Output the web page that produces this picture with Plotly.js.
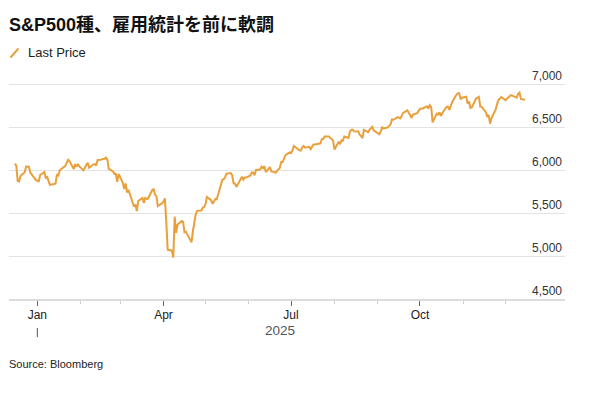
<!DOCTYPE html>
<html>
<head>
<meta charset="utf-8">
<script src="https://cdn.plot.ly/plotly-3.0.1.min.js"></script>
<style>html,body{margin:0;padding:0;background:#fff;}#chart{width:599px;height:393px;}</style>
</head>
<body>
<div id="chart"></div>
<script>
// ---- Data (S&P 500 daily close) ----
const dates = [
"2024-12-16","2024-12-17","2024-12-18","2024-12-19","2024-12-20","2024-12-23","2024-12-24","2024-12-26","2024-12-27","2024-12-30","2024-12-31",
"2025-01-02","2025-01-03","2025-01-06","2025-01-07","2025-01-08","2025-01-10","2025-01-13","2025-01-14","2025-01-15","2025-01-16","2025-01-17","2025-01-21","2025-01-22","2025-01-23","2025-01-24","2025-01-27","2025-01-28","2025-01-29","2025-01-30","2025-01-31",
"2025-02-03","2025-02-04","2025-02-05","2025-02-06","2025-02-07","2025-02-10","2025-02-11","2025-02-12","2025-02-13","2025-02-14","2025-02-18","2025-02-19","2025-02-20","2025-02-21","2025-02-24","2025-02-25","2025-02-26","2025-02-27","2025-02-28",
"2025-03-03","2025-03-04","2025-03-05","2025-03-06","2025-03-07","2025-03-10","2025-03-11","2025-03-12","2025-03-13","2025-03-14","2025-03-17","2025-03-18","2025-03-19","2025-03-20","2025-03-21","2025-03-24","2025-03-25","2025-03-26","2025-03-27","2025-03-28","2025-03-31",
"2025-04-01","2025-04-02","2025-04-03","2025-04-04","2025-04-07","2025-04-08","2025-04-09","2025-04-10","2025-04-11","2025-04-14","2025-04-15","2025-04-16","2025-04-17","2025-04-21","2025-04-22","2025-04-23","2025-04-24","2025-04-25","2025-04-28","2025-04-29","2025-04-30",
"2025-05-01","2025-05-02","2025-05-05","2025-05-06","2025-05-07","2025-05-08","2025-05-09","2025-05-12","2025-05-13","2025-05-14","2025-05-15","2025-05-16","2025-05-19","2025-05-20","2025-05-21","2025-05-22","2025-05-23","2025-05-27","2025-05-28","2025-05-29","2025-05-30",
"2025-06-02","2025-06-03","2025-06-04","2025-06-05","2025-06-06","2025-06-09","2025-06-10","2025-06-11","2025-06-12","2025-06-13","2025-06-16","2025-06-17","2025-06-18","2025-06-20","2025-06-23","2025-06-24","2025-06-25","2025-06-26","2025-06-27","2025-06-30",
"2025-07-01","2025-07-02","2025-07-03","2025-07-07","2025-07-08","2025-07-09","2025-07-10","2025-07-11","2025-07-14","2025-07-15","2025-07-16","2025-07-17","2025-07-18","2025-07-21","2025-07-22","2025-07-23","2025-07-24","2025-07-25","2025-07-28","2025-07-29","2025-07-30","2025-07-31",
"2025-08-01","2025-08-04","2025-08-05","2025-08-06","2025-08-07","2025-08-08","2025-08-11","2025-08-12","2025-08-13","2025-08-14","2025-08-15","2025-08-18","2025-08-19","2025-08-20","2025-08-21","2025-08-22","2025-08-25","2025-08-26","2025-08-27","2025-08-28","2025-08-29",
"2025-09-02","2025-09-03","2025-09-04","2025-09-05","2025-09-08","2025-09-09","2025-09-10","2025-09-11","2025-09-12","2025-09-15","2025-09-16","2025-09-17","2025-09-18","2025-09-19","2025-09-22","2025-09-23","2025-09-24","2025-09-25","2025-09-26","2025-09-29","2025-09-30",
"2025-10-01","2025-10-02","2025-10-03","2025-10-06","2025-10-07","2025-10-08","2025-10-09","2025-10-10","2025-10-13","2025-10-14","2025-10-15","2025-10-16","2025-10-17","2025-10-20","2025-10-21","2025-10-22","2025-10-23","2025-10-24","2025-10-27","2025-10-28","2025-10-29","2025-10-30","2025-10-31",
"2025-11-03","2025-11-04","2025-11-05","2025-11-06","2025-11-07","2025-11-10","2025-11-11","2025-11-12","2025-11-13","2025-11-14","2025-11-17","2025-11-18","2025-11-19","2025-11-20","2025-11-21","2025-11-24","2025-11-25","2025-11-26","2025-11-28",
"2025-12-01","2025-12-02","2025-12-03","2025-12-04","2025-12-05","2025-12-08","2025-12-09","2025-12-10","2025-12-11","2025-12-12","2025-12-15"
];
const lastPrice = [
6074,6051,5872,5867,5931,5974,6040,6038,5971,5907,5882,
5869,5942,5975,5909,5918,5827,5836,5843,5950,5937,5997,6049,6086,6119,6101,6012,6068,6039,6071,6041,
5995,6038,6061,6084,6026,6066,6069,6052,6115,6115,6130,6144,6118,6013,5983,5955,5956,5862,5955,
5850,5778,5843,5739,5770,5615,5572,5599,5522,5639,5675,5615,5675,5663,5668,5768,5777,5712,5693,5581,5612,
5633,5671,5397,5074,5062,4983,5457,5268,5363,5406,5397,5276,5283,5158,5288,5376,5485,5525,5529,5561,5569,
5604,5687,5650,5607,5631,5664,5660,5844,5887,5893,5917,5958,5964,5940,5845,5842,5803,5922,5889,5912,5912,
5936,5970,5971,5939,6000,6006,6039,6022,6045,5977,6033,5983,5981,5968,6025,6092,6092,6141,6173,6205,
6198,6227,6279,6230,6226,6263,6280,6260,6269,6244,6264,6297,6297,6306,6310,6359,6363,6389,6390,6371,6363,6339,
6238,6330,6299,6345,6340,6389,6373,6446,6467,6469,6450,6449,6411,6396,6370,6467,6439,6466,6481,6502,6460,
6416,6448,6502,6482,6495,6513,6532,6587,6584,6615,6607,6600,6632,6664,6694,6657,6638,6605,6644,6661,6688,
6711,6715,6716,6740,6715,6754,6735,6553,6655,6644,6671,6629,6664,6735,6735,6699,6738,6792,6875,6891,6891,6822,6840,
6852,6772,6796,6720,6729,6832,6847,6851,6737,6734,6672,6617,6642,6539,6603,6705,6766,6813,6849,
6813,6829,6850,6857,6870,6847,6841,6887,6901,6827,6817
];
const xTickVals = ["2025-01-01","2025-04-01","2025-07-01","2025-10-01"];
const xTickText = ["Jan","Apr","Jul","Oct"];
const xMinorVals = ["2025-02-01","2025-03-01","2025-05-01","2025-06-01","2025-08-01","2025-09-01","2025-11-01","2025-12-01"];
const yTickVals = [4500,5000,5500,6000,6500,7000];
const yTickText = ["4,500","5,000","5,500","6,000","6,500","7,000"];
const yearLabel = "2025";
const yearLabelPos = "2025-06-23";
const yearStart = "2025-01-01";
const seriesName = "Last Price";
const titleText = "S&P500種、雇用統計を前に軟調";
const sourceText = "Source: Bloomberg";

// ---- Layout helpers ----
const W = 599, H = 393;
const M = {l: 9, r: 34, t: 58, b: 94};
const plotH = H - M.t - M.b, plotW = W - M.l - M.r;
const py = p => (H - M.b - p) / plotH;   // pixel y -> paper y
const px = p => (p - M.l) / plotW;       // pixel x -> paper x
const ORANGE = "#e9a03b";
const FONT = '"Liberation Sans", Arial, "Noto Sans CJK JP", sans-serif';

const trace = {
  type: "scatter", mode: "lines", x: dates, y: lastPrice, name: seriesName,
  line: {color: ORANGE, width: 2}, hoverinfo: "skip", showlegend: false
};

const layout = {
  width: W, height: H,
  margin: {l: M.l, r: M.r, t: M.t, b: M.b, pad: 0},
  paper_bgcolor: "#fff", plot_bgcolor: "#fff",
  font: {family: FONT, size: 12, color: "#222"},
  title: {
    text: titleText, x: 9 / W, xanchor: "left", y: 1 - 25 / H, yanchor: "middle",
    font: {family: FONT, size: 18, color: "#111", weight: 700}
  },
  showlegend: false,
  xaxis: {
    type: "date", range: ["2024-12-11 19:00", "2026-01-12 11:00"],
    tickmode: "array", tickvals: xTickVals, ticktext: xTickText,
    ticks: "outside", ticklen: 5, tickwidth: 1, tickcolor: "#666",
    tickfont: {size: 12, color: "#222"}, ticklabelstandoff: -1,
    showgrid: false, zeroline: false,
    showline: true, linecolor: "#dcdcdc", linewidth: 1.5,
    minor: {tickmode: "array", tickvals: xMinorVals, ticks: "outside", ticklen: 3, tickwidth: 1, tickcolor: "#cfcfcf", showgrid: false},
    fixedrange: true
  },
  yaxis: {
    side: "right", range: [4500, 4500 + plotH / 0.086],
    tickmode: "array", tickvals: yTickVals, ticktext: yTickText,
    ticklabelposition: "inside top", ticks: "",
    tickfont: {size: 12, color: "#333"},
    showgrid: true, gridcolor: "#e3e3e3", gridwidth: 1,
    zeroline: false, showline: false, fixedrange: true
  },
  annotations: [
    {text: seriesName, xref: "paper", yref: "paper", x: px(26), y: py(52), xanchor: "left", yanchor: "middle",
     showarrow: false, font: {size: 13, color: "#222"}},
    {text: sourceText, xref: "paper", yref: "paper", x: px(6.5), y: py(364), xanchor: "left", yanchor: "middle",
     showarrow: false, font: {size: 11, color: "#222"}},
    {text: yearLabel, xref: "x", yref: "paper", x: yearLabelPos, y: py(330), xanchor: "center", yanchor: "middle",
     showarrow: false, font: {size: 13.5, color: "#555"}}
  ],
  shapes: [
    {type: "line", xref: "paper", yref: "paper", x0: px(10.5), y0: py(57.5), x1: px(18.5), y1: py(48.5),
     line: {color: ORANGE, width: 2}},
    {type: "line", xref: "x", yref: "paper", x0: yearStart, x1: yearStart, y0: py(337), y1: py(328),
     line: {color: "#555", width: 1}}
  ]
};

Plotly.newPlot("chart", [trace], layout, {staticPlot: true, displayModeBar: false});
</script>
</body>
</html>
